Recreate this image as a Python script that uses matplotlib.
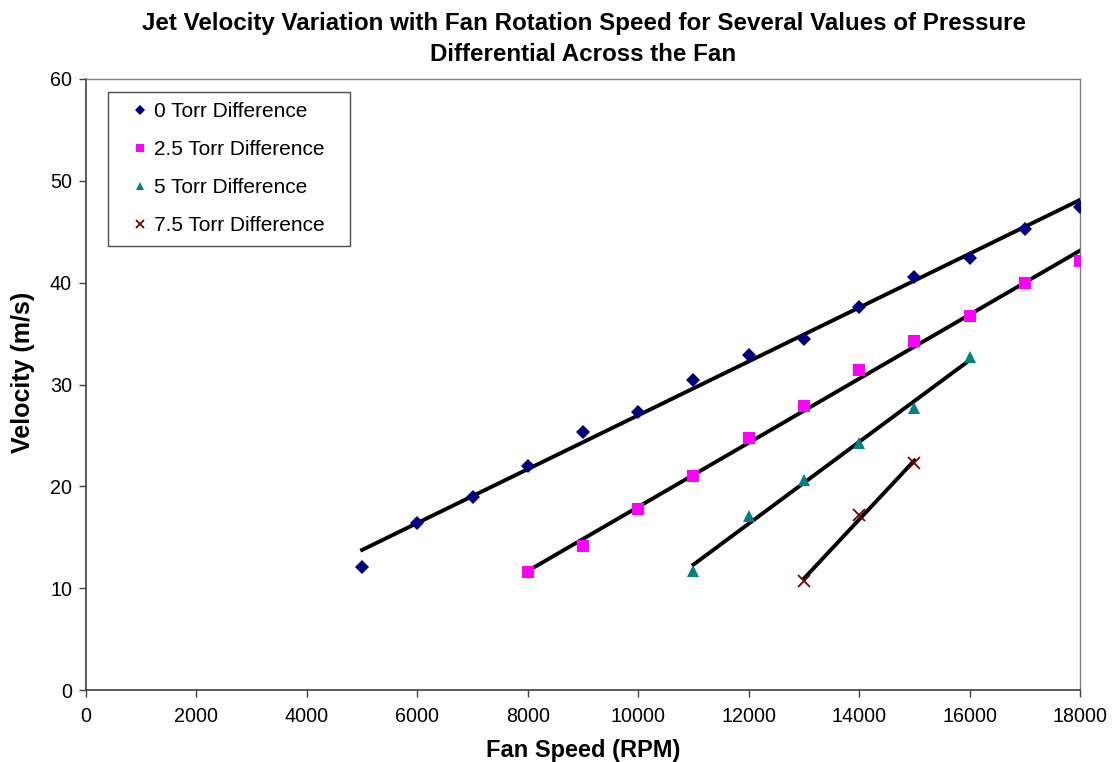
import numpy as np
import matplotlib.pyplot as plt

plt.rcParams["font.family"] = ["Liberation Sans", "DejaVu Sans"]

# Fan speed (RPM) and jet velocity (m/s) per pressure differential
rpm_0 = [5000, 6000, 7000, 8000, 9000, 10000, 11000, 12000, 13000, 14000, 15000, 16000, 17000, 18000]
vel_0 = [12.1, 16.4, 19.0, 22.0, 25.3, 27.3, 30.4, 32.9, 34.5, 37.6, 40.6, 42.4, 45.3, 47.4]

rpm_25 = [8000, 9000, 10000, 11000, 12000, 13000, 14000, 15000, 16000, 17000, 18000]
vel_25 = [11.6, 14.1, 17.8, 21.0, 24.7, 27.9, 31.4, 34.3, 36.7, 40.0, 42.1]

rpm_5 = [11000, 12000, 13000, 14000, 15000, 16000]
vel_5 = [11.7, 17.1, 20.6, 24.3, 27.7, 32.7]

rpm_75 = [13000, 14000, 15000]
vel_75 = [10.7, 17.2, 22.3]

series = [
	(rpm_0, vel_0, "0 Torr Difference", "D", "#000080", 7),
	(rpm_25, vel_25, "2.5 Torr Difference", "s", "#FF00FF", 8),
	(rpm_5, vel_5, "5 Torr Difference", "^", "#008080", 8.5),
	(rpm_75, vel_75, "7.5 Torr Difference", "x", "#800000", 8),
]

fig = plt.figure(figsize=(11.15, 7.62), dpi=100)
ax = fig.add_axes([86 / 1115, 1 - 690 / 762, (1080 - 86) / 1115, (690 - 79) / 762])

for x, y, label, marker, color, size in series:
	if marker == "x":
		ax.plot(x, y, linestyle="none", marker=marker, color=color, markersize=size, mew=1.3, label=label, zorder=3)
	else:
		ax.plot(x, y, linestyle="none", marker=marker, color=color, markersize=size, mew=0, label=label, zorder=3)
	# linear trendline
	k, d = np.polyfit(x, y, 1)
	xs = np.array([min(x), max(x)])
	ax.plot(xs, k * xs + d, color="black", linewidth=2.8, zorder=2)

ax.set_xlim(0, 18000)
ax.set_ylim(0, 60)
ax.set_xticks(np.arange(0, 18001, 2000))
ax.set_yticks(np.arange(0, 61, 10))
ax.tick_params(direction="out", length=5, labelsize=14.2, color="#404040", width=1)
ax.tick_params(axis="y", pad=5)
ax.tick_params(axis="x", pad=7)

for side in ["top", "right"]:
	ax.spines[side].set_color("#808080")
	ax.spines[side].set_linewidth(1)
for side in ["left", "bottom"]:
	ax.spines[side].set_color("#404040")
	ax.spines[side].set_linewidth(1.2)

ax.set_xlabel("Fan Speed (RPM)", fontsize=17, fontweight="bold")
ax.xaxis.set_label_coords(0.5, -(750 - 690) / 611, transform=ax.transAxes)
ax.xaxis.label.set_va("center")
ax.set_ylabel("Velocity (m/s)", fontsize=18, fontweight="bold")
ax.yaxis.set_label_coords(-(86 - 23) / 994, (690 - 372) / 611)
ax.yaxis.label.set_va("center")
fig.text(583.5 / 1115, 1 - 39 / 762, "Jet Velocity Variation with Fan Rotation Speed for Several Values of Pressure\nDifferential Across the Fan",
         fontsize=17.4, fontweight="bold", ha="center", va="center", linespacing=1.4)

leg = ax.legend(loc="upper left", bbox_to_anchor=(0.0221, 0.9787, 0.2435, 0), mode="expand", fontsize=15,
                frameon=True, fancybox=False, edgecolor="#202020", handlelength=2.07, handletextpad=-0.36,
                labelspacing=0.91, borderpad=0.5, borderaxespad=0, markerscale=0.72)
leg.get_frame().set_linewidth(1)

plt.savefig("out.png", dpi=100)
